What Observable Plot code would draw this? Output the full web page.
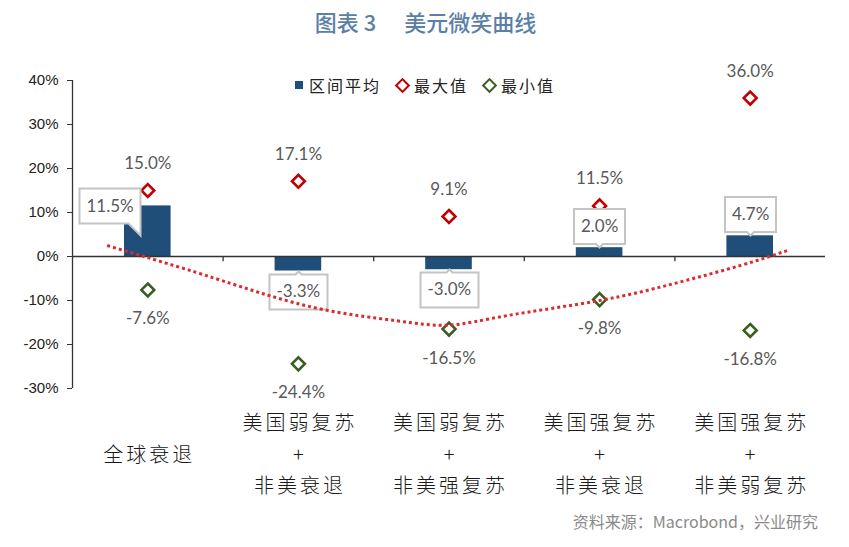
<!DOCTYPE html>
<html>
<head>
<meta charset="utf-8">
<script src="https://cdn.jsdelivr.net/npm/d3@7"></script>
<script src="https://cdn.jsdelivr.net/npm/@observablehq/plot@0.6"></script>
<style>
  body { margin: 0; background: #fff; }
  #wrap { position: relative; width: 849px; height: 547px; font-family: "Noto Sans CJK SC", sans-serif; background: #fff; }
  #title { height: 42px; display: flex; align-items: center; justify-content: center; padding-left: 2px; box-sizing: border-box;
           font-size: 22px; color: #5b7fa6; font-weight: 500; }
  #title .gap { display: inline-block; width: 28px; }
  #legend { position: absolute; top: 73px; left: 295px; display: flex; align-items: center; font-size: 16px; color: #222; letter-spacing: 2px; }
  #legend .sq { width: 8px; height: 8px; background: #1f4e79; margin-right: 6px; }
  #legend .dm { width: 7px; height: 7px; border: 2.4px solid; transform: rotate(45deg); margin: 0 6px 0 16px; }
  #caption { position: absolute; top: 509px; right: 31px; font-size: 16px; color: #8a8a8a; }
  g[aria-label="tip"] text { fill: #595959; }
  text[aria-label="catlabels"] { letter-spacing: 3px; }
</style>
</head>
<body>
<div id="wrap">
  <div id="title"><span>图表 3</span><span class="gap"></span><span>美元微笑曲线</span></div>
  <div id="chart"></div>
  <div id="legend">
    <span class="sq"></span><span>区间平均</span>
    <span class="dm" style="border-color:#c00000"></span><span>最大值</span>
    <span class="dm" style="border-color:#3a5d22"></span><span>最小值</span>
  </div>
  <div id="caption">资料来源：Macrobond，兴业研究</div>
</div>
<script>
const categories = ["全球衰退", "美国弱复苏\n+\n非美衰退", "美国弱复苏\n+\n非美强复苏", "美国强复苏\n+\n非美衰退", "美国强复苏\n+\n非美弱复苏"];
const avgValues = [11.5, -3.3, -3.0, 2.0, 4.7];
const maxValues = [15.0, 17.1, 9.1, 11.5, 36.0];
const minValues = [-7.6, -24.4, -16.5, -9.8, -16.8];
const yTicks = [-30, -20, -10, 0, 10, 20, 30, 40];
// dotted smile-curve (x in category units, y in %)
const trendX = [0.73, 1.32, 1.76, 2.2, 2.65, 3.0, 3.39, 4.0, 4.5, 4.94, 5.25];
const trendY = [2.5, -3.6, -8.4, -12.3, -14.6, -15.6, -13.4, -10.0, -6.1, -2.0, 1.4];

const rows = categories.map((c, i) => ({cat: c, pos: i + 1, avg: avgValues[i], max: maxValues[i], min: minValues[i]}));
const trend = trendX.map((x, i) => ({x, y: trendY[i]}));
const bounds = categories.slice(1).map((_, i) => i + 1.5);
const xDomain = [0.5, categories.length + 0.5];
const fmt = v => v.toFixed(1) + "%";
const numFont = "Lato, 'Liberation Sans', sans-serif";
const tipStyle = {title: d => fmt(d.avg), fill: "white", stroke: "#c4c4c4", strokeWidth: 2, textPadding: 7,
                  fontSize: 17, fontFamily: numFont, pathFilter: "none"};

const chart = Plot.plot({
  width: 849, height: 470,
  marginTop: 38, marginBottom: 124, marginLeft: 72, marginRight: 24,
  x: {type: "linear", domain: xDomain, axis: null},
  y: {domain: [-30, 40], axis: null},
  style: {fontFamily: "'Noto Sans CJK SC', sans-serif", background: "white", color: "#222", overflow: "visible"},
  marks: [
    Plot.rectY(rows, {x1: d => d.pos - 0.5, x2: d => d.pos + 0.5, y1: 0, y2: "avg", insetLeft: 52, insetRight: 52, fill: "#1f4e79"}),
    Plot.ruleY([0], {stroke: "#333", strokeWidth: 1.3}),
    Plot.ruleX(bounds, {y1: 0, y2: -1.2, stroke: "#333", strokeWidth: 1.3}),
    Plot.ruleX([xDomain[0]], {stroke: "#333", strokeWidth: 1.3}),
    Plot.axisY({ticks: yTicks, tickFormat: d => d + "%", tickSize: 5, tickPadding: 9, fontSize: 15,
                fontFamily: "'Liberation Sans', sans-serif", stroke: "#333", fill: "#222"}),
    Plot.dot(rows, {x: "pos", y: "max", symbol: "diamond2", r: 5.8, stroke: "#c00000", strokeWidth: 2.6}),
    Plot.dot(rows, {x: "pos", y: "min", symbol: "diamond2", r: 5.8, stroke: "#3a5d22", strokeWidth: 2.6}),
    Plot.text(rows, {x: "pos", y: "max", text: d => fmt(d.max), dy: -27, fontSize: 17, fill: "#595959", fontFamily: numFont}),
    Plot.text(rows, {x: "pos", y: "min", text: d => fmt(d.min), dy: 29, fontSize: 17, fill: "#595959", fontFamily: numFont}),
    Plot.text(rows, {x: "pos", text: "cat", frameAnchor: "bottom", dx: 1.5, dy: 63, lineAnchor: "middle", lineHeight: 1.58,
                     fontSize: 20, fontWeight: 300, fill: "#1a1a1a", ariaLabel: () => "catlabels"}),
    Plot.tip(rows.filter(d => d.pos === 1), {x: "pos", y: "avg", anchor: "bottom-right", dx: -7, dy: 30, pointerSize: 12, ...tipStyle}),
    Plot.tip(rows.filter(d => d.pos > 1 && d.avg > 0), {x: "pos", y: "avg", anchor: "bottom", pointerSize: 7, ...tipStyle}),
    Plot.tip(rows.filter(d => d.avg < 0), {x: "pos", y: "avg", anchor: "top", pointerSize: 6, ...tipStyle}),
    Plot.line(trend, {x: "x", y: "y", curve: "natural", stroke: "#de2a2e", strokeWidth: 3, strokeDasharray: "3,3",
                      strokeLinecap: "butt"})
  ]
});
document.getElementById("chart").appendChild(chart);
</script>
</body>
</html>
